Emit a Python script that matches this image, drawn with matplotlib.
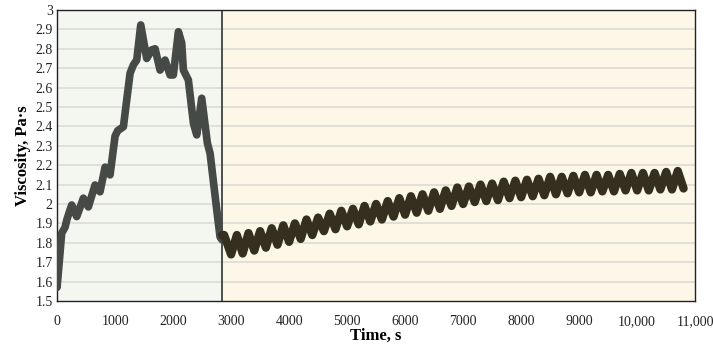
import matplotlib.pyplot as plt
from matplotlib.ticker import FuncFormatter

# stage 1: shearing up to ~2850 s
t1 = [0, 0, 52, 80, 138, 170, 224, 253, 339, 454, 540, 655, 741, 828, 914, 1000, 1046,
      1144, 1201, 1259, 1316, 1374, 1443, 1546, 1631, 1690, 1776, 1862, 1948, 2005,
      2092, 2149, 2178, 2264, 2351, 2408, 2494, 2592, 2638, 2753, 2810, 2845]
v1 = [1.62, 1.57, 1.75, 1.85, 1.88, 1.92, 1.97, 1.995, 1.935, 2.03, 1.985, 2.098, 2.063,
      2.19, 2.15, 2.35, 2.378, 2.398, 2.536, 2.674, 2.717, 2.742, 2.923, 2.75, 2.794,
      2.80, 2.69, 2.742, 2.665, 2.665, 2.888, 2.83, 2.69, 2.639, 2.416, 2.356, 2.545,
      2.313, 2.261, 1.97, 1.83, 1.815]

# stage 2: recovery, oscillating, peaks and troughs
t_peak = [3100, 3300, 3500, 3700, 3900, 4100, 4300, 4500, 4700, 4900, 5100, 5300, 5500,
          5700, 5900, 6100, 6300, 6500, 6700, 6900, 7100, 7300, 7500, 7700, 7900, 8100,
          8300, 8500, 8700, 8900, 9100, 9300, 9500, 9700, 9900, 10100, 10300, 10500, 10700]
v_peak = [1.84, 1.85, 1.86, 1.875, 1.89, 1.90, 1.92, 1.93, 1.95, 1.965, 1.975, 1.99, 2.00,
          2.015, 2.03, 2.04, 2.05, 2.06, 2.07, 2.085, 2.09, 2.10, 2.105, 2.115, 2.12, 2.125,
          2.13, 2.14, 2.14, 2.145, 2.15, 2.15, 2.15, 2.155, 2.16, 2.16, 2.16, 2.165, 2.17]
t_trough = [3000, 3200, 3400, 3600, 3800, 4000, 4200, 4400, 4600, 4800, 5000, 5200, 5400,
            5600, 5800, 6000, 6200, 6400, 6600, 6800, 7000, 7200, 7400, 7600, 7800, 8000,
            8200, 8400, 8600, 8800, 9000, 9200, 9400, 9600, 9800, 10000, 10200, 10400, 10600]
v_trough = [1.74, 1.745, 1.76, 1.775, 1.79, 1.805, 1.82, 1.84, 1.86, 1.87, 1.885, 1.895,
            1.91, 1.92, 1.935, 1.945, 1.955, 1.965, 1.975, 1.99, 2.00, 2.01, 2.015, 2.02,
            2.03, 2.035, 2.04, 2.045, 2.05, 2.055, 2.06, 2.06, 2.065, 2.065, 2.07, 2.07,
            2.07, 2.075, 2.075]
t2_start, v2_start = [2845, 2880], [1.84, 1.84]
t2_end, v2_end = [10800], [2.08]

t_split = 2850

# merge peaks and troughs in time order
pts = sorted(zip(t_peak + t_trough, v_peak + v_trough))
t2 = t2_start + [p[0] for p in pts] + t2_end
v2 = v2_start + [p[1] for p in pts] + v2_end

plt.rcParams['font.family'] = ['Liberation Serif', 'DejaVu Serif']

fig = plt.figure(figsize=(7.13, 3.44), dpi=100)
ax = fig.add_axes([0.080, 0.125, 0.895, 0.846])

ax.axvspan(0, t_split, color='#f3f7f0', zorder=0)
ax.axvspan(t_split, 11000, color='#fdf7e8', zorder=0)
for y in [1.6 + 0.1 * i for i in range(14)]:
    ax.axhline(y, color='#deded6', lw=1.3, zorder=1)
ax.axvline(t_split, color='#333333', lw=1.2, zorder=2)

ax.plot(t1, v1, color='#464a46', lw=5.5, solid_joinstyle='round', solid_capstyle='round', zorder=3)
ax.plot(t2, v2, color='#352f20', lw=6, solid_joinstyle='round', solid_capstyle='round', zorder=3)

ax.set_xlim(0, 11000)
ax.set_ylim(1.5, 3)
ax.set_xticks(range(0, 11001, 1000))
ax.set_yticks([1.5 + 0.1 * i for i in range(16)])
ax.xaxis.set_major_formatter(FuncFormatter(lambda x, p: f'{int(x):,}' if x >= 10000 else f'{int(x)}'))
ax.yaxis.set_major_formatter(FuncFormatter(lambda y, p: f'{y:.1f}'.rstrip('0').rstrip('.')))
ax.tick_params(length=0, labelsize=10, colors='#222222', pad=10)
ax.tick_params(axis='y', pad=3)
for s in ax.spines.values():
    s.set_color('#222222')
    s.set_linewidth(1.0)

ax.set_xlabel('Time, s', fontsize=12, fontweight='bold', labelpad=0)
ax.set_ylabel('Viscosity, Pa·s', fontsize=12, fontweight='bold', labelpad=3)

fig.savefig('out.png', dpi=100)
